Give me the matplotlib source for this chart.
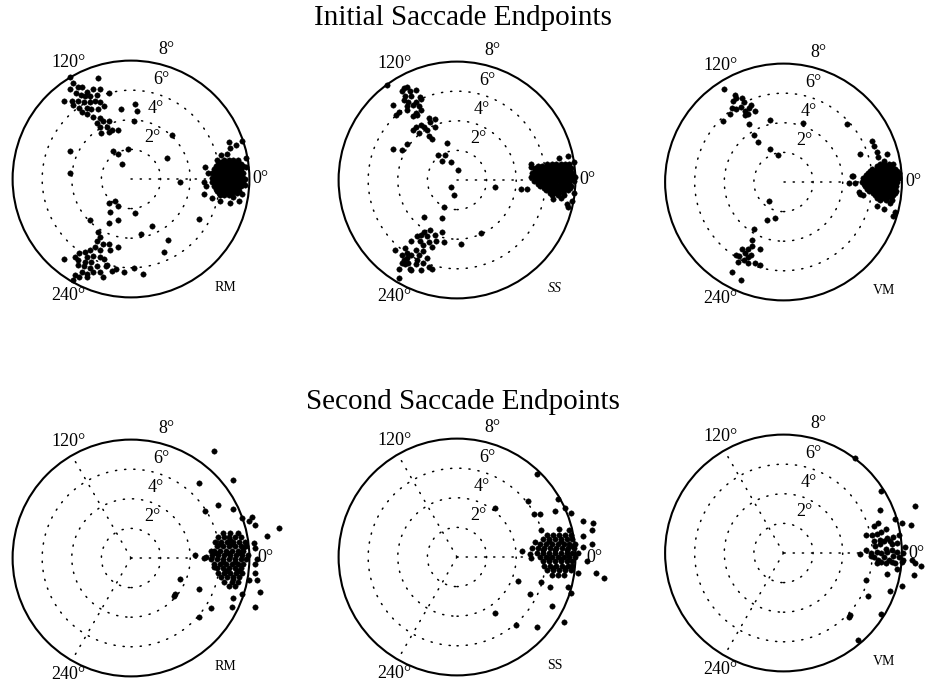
import matplotlib
matplotlib.use('Agg')
import matplotlib.pyplot as plt
from matplotlib.patches import Circle
import numpy as np

plt.rcParams['font.family'] = ['Liberation Serif', 'DejaVu Serif']

W, H = 926, 685

row_titles = ["Initial Saccade Endpoints", "Second Saccade Endpoints"]
monkeys = ["RM", "SS", "VM"]
ring_radii = [2, 4, 6]
rmax = 8
ring_labels = ["2°", "4°", "6°", "8°"]
angle_labels = ["0°", "120°", "240°"]

# ---------------- Initial saccades (x, y in degrees) ----------------
trm_120 = [(-4.1,6.9),(-2.2,6.8),(-3.9,6.5),(-3.6,6.2),(-4.1,6.1),(-3.3,6.2),(-3.0,5.9),(-2.6,6.1),
           (-2.1,6.1),(-1.5,5.8),(-3.7,5.8),(-3.4,5.7),(-3.1,5.6),(-2.8,5.6),(-2.3,5.7),(-4.0,5.3),
           (-3.6,5.3),(-3.2,5.2),(-2.8,5.2),(-2.4,5.3),(-2.1,5.2),(-1.8,4.9),(-3.9,5.0),(-3.5,4.8),
           (-3.0,4.8),(-2.7,4.7),(-2.2,4.7),(-3.3,4.5),(-3.0,4.4),(-2.6,4.2),(-2.1,4.1),(-2.3,3.8),
           (-1.9,3.9),(-1.5,3.9),(-2.1,3.5),(-1.6,3.5),(-1.3,3.3),(-2.0,3.1),(-1.5,3.2),(-0.9,3.3),
           (-4.5,5.3)]
trm_scatter = [(-0.7,4.7),(0.3,5.1),(0.4,4.6),(0.2,3.9),(2.8,3.0),(2.4,1.4),(-4.1,1.9),(-4.1,0.4),
               (-1.2,1.9),(-0.9,1.7),(-0.2,2.0),(-0.6,1.0),(3.3,-0.2),(7.5,2.6),(7.8,1.4),(6.6,2.5),
               (-1.5,-1.6),(-1.1,-1.5),(-0.9,-1.8),(0.3,-2.3),(-1.4,-2.2),(-2.8,-2.8),(-1.5,-3.0),
               (-0.9,-2.8),(1.4,-3.2),(4.6,-2.7),(0.7,-3.7),(2.5,-4.1),(2.2,-4.9),(0.2,-6.0),
               (0.8,-6.4),(-1.0,-6.1),(-0.5,-6.3),(-1.7,-5.9)]
trm_240 = [(-2.2,-3.6),(-2.1,-3.9),(-2.3,-4.2),(-1.9,-4.4),(-1.5,-4.4),(-0.9,-4.6),(-2.4,-4.6),
           (-2.8,-4.8),(-2.1,-4.8),(-3.1,-4.9),(-3.5,-5.0),(-3.8,-5.3),(-3.0,-5.3),(-2.6,-5.2),
           (-2.1,-5.3),(-1.8,-5.4),(-4.5,-5.4),(-3.6,-5.5),(-3.1,-5.6),(-2.7,-5.6),(-3.6,-5.8),
           (-3.2,-5.9),(-2.8,-6.0),(-2.3,-5.9),(-3.3,-6.3),(-3.0,-6.4),(-2.6,-6.3),(-2.1,-6.3),
           (-3.5,-6.6),(-3.0,-6.6),(-3.9,-6.8),(-3.8,-6.5),(-1.4,-4.8),(-1.6,-5.8),(-1.3,-6.2),
           (-1.9,-6.6)]
trm_0 = [(5.0,0.8),(5.2,0.4),(4.9,-0.2),(5.1,-0.5),(4.9,-1.0),(5.5,-1.3),(6.0,-1.5),(6.7,-1.6),
         (7.3,-1.5),(6.9,-1.2),(7.7,0.0),(7.8,0.8),(7.7,-0.4),(7.5,-1.0),(6.7,2.1),(7.1,2.3),
         (6.5,1.7),(6.1,1.6),(5.8,1.3),
         (6.3,1.3),(6.6,1.3),(6.9,1.3),(7.2,1.3),
         (5.9,1.0),(6.2,1.0),(6.5,1.0),(6.8,1.0),(7.1,1.0),(7.4,1.0),
         (5.6,0.7),(5.9,0.7),(6.2,0.7),(6.5,0.7),(6.8,0.7),(7.1,0.7),(7.4,0.7),
         (5.5,0.4),(5.8,0.4),(6.1,0.4),(6.4,0.4),(6.7,0.4),(7.0,0.4),(7.3,0.4),(7.6,0.4),
         (5.5,0.1),(5.8,0.1),(6.1,0.1),(6.4,0.1),(6.7,0.1),(7.0,0.1),(7.3,0.1),(7.6,0.1),
         (5.5,-0.2),(5.8,-0.2),(6.1,-0.2),(6.4,-0.2),(6.7,-0.2),(7.0,-0.2),(7.3,-0.2),(7.6,-0.2),
         (5.6,-0.5),(5.9,-0.5),(6.2,-0.5),(6.5,-0.5),(6.8,-0.5),(7.1,-0.5),(7.4,-0.5),
         (5.8,-0.8),(6.1,-0.8),(6.4,-0.8),(6.7,-0.8),(7.0,-0.8),(7.3,-0.8),
         (6.0,-1.1),(6.3,-1.1),(6.6,-1.1)]
trm_0_dense = [(6.05,1.15),(6.35,1.15),(6.65,1.15),(6.95,1.15),(7.25,1.15),
               (5.75,0.85),(6.05,0.85),(6.35,0.85),(6.65,0.85),(6.95,0.85),(7.25,0.85),(7.55,0.85),
               (5.65,0.55),(5.95,0.55),(6.25,0.55),(6.55,0.55),(6.85,0.55),(7.15,0.55),(7.45,0.55),
               (5.65,0.25),(5.95,0.25),(6.25,0.25),(6.55,0.25),(6.85,0.25),(7.15,0.25),(7.45,0.25),
               (5.65,-0.05),(5.95,-0.05),(6.25,-0.05),(6.55,-0.05),(6.85,-0.05),(7.15,-0.05),(7.45,-0.05),
               (5.65,-0.35),(5.95,-0.35),(6.25,-0.35),(6.55,-0.35),(6.85,-0.35),(7.15,-0.35),(7.45,-0.35),
               (5.75,-0.65),(6.05,-0.65),(6.35,-0.65),(6.65,-0.65),(6.95,-0.65),(7.25,-0.65),
               (5.95,-0.95),(6.25,-0.95),(6.55,-0.95),(6.85,-0.95),(7.15,-0.95)]

tss_120 = [(-4.7,6.4),(-3.6,6.2),(-3.4,6.3),(-3.7,6.0),(-3.2,6.0),(-2.8,6.1),(-3.5,5.7),(-3.1,5.7),
           (-2.5,5.6),(-3.6,5.4),(-3.3,5.3),(-2.8,5.3),(-2.4,5.5),(-3.4,5.0),(-3.0,5.1),(-2.6,5.0),
           (-4.3,5.1),(-3.9,4.6),(-3.4,4.7),(-2.8,4.5),(-2.4,4.7),(-4.1,4.4),(-3.0,4.3),(-2.7,4.4),
           (-1.9,4.2),(-1.5,4.1),(-1.8,3.9),(-2.4,3.7),(-2.2,3.6),(-2.8,3.6),(-2.0,3.4),(-2.6,3.2),
           (-1.9,3.0),(-1.7,2.8),(-1.5,3.6),(-3.0,3.4)]
tss_scatter = [(-4.3,2.1),(-3.7,2.0),(-3.4,2.4),(-1.3,1.7),(-1.0,1.3),(-0.8,1.7),(-0.7,2.5),
               (-0.4,1.2),(0.1,0.7),(-0.4,-0.5),(-0.2,-1.0),(-0.9,-1.8),(-1.0,-2.6),(-2.2,-2.5),
               (0.3,-4.3),(2.6,-0.5),(1.6,-3.6)]
tss_240 = [(-2.2,-3.5),(-1.8,-3.4),(-2.4,-3.7),(-2.7,-3.8),(-2.0,-3.8),(-1.5,-3.7),(-3.1,-4.1),
           (-2.5,-4.1),(-1.9,-4.2),(-1.4,-4.1),(-2.3,-4.4),(-1.7,-4.5),(-1.0,-3.5),(-3.5,-4.6),
           (-4.2,-4.7),(-2.8,-4.7),(-2.3,-4.8),(-3.7,-5.1),(-3.4,-5.3),(-3.1,-5.1),(-2.7,-5.4),
           (-3.3,-5.6),(-2.8,-5.7),(-3.7,-5.6),(-2.3,-5.6),(-1.9,-5.9),(-1.7,-6.0),(-2.4,-6.1),
           (-3.1,-6.1),(-3.9,-6.0),(-2.0,-5.3),(-0.9,-4.2),(-2.6,-5.1),(-3.5,-5.7),(-3.2,-6.0),
           (-3.4,-4.9),(-3.6,-5.4),(-3.9,-6.6)]
tss_0 = [(5.0,1.1),(4.7,-0.6),(7.5,1.6),(7.9,1.2),(7.9,-0.9),(7.4,-1.6),(7.5,-1.8),(7.0,-1.2),
         (6.5,-1.3),(7.8,-1.4),(6.9,1.5),(4.3,-0.6),(5.0,0.9),
         (6.1,1.1),(6.4,1.1),(6.7,1.1),(7.0,1.1),(7.3,1.1),(7.6,1.1),
         (5.3,0.8),(5.6,0.8),(5.9,0.8),(6.2,0.8),(6.5,0.8),(6.8,0.8),(7.1,0.8),(7.4,0.8),(7.7,0.8),
         (5.1,0.5),(5.4,0.5),(5.7,0.5),(6.0,0.5),(6.3,0.5),(6.6,0.5),(6.9,0.5),(7.2,0.5),(7.5,0.5),(7.8,0.5),
         (5.0,0.2),(5.3,0.2),(5.6,0.2),(5.9,0.2),(6.2,0.2),(6.5,0.2),(6.8,0.2),(7.1,0.2),(7.4,0.2),(7.7,0.2),(8.0,0.2),
         (5.2,-0.1),(5.5,-0.1),(5.8,-0.1),(6.1,-0.1),(6.4,-0.1),(6.7,-0.1),(7.0,-0.1),(7.3,-0.1),(7.6,-0.1),(7.9,-0.1),
         (5.6,-0.4),(5.9,-0.4),(6.2,-0.4),(6.5,-0.4),(6.8,-0.4),(7.1,-0.4),(7.4,-0.4),(7.7,-0.4),
         (6.0,-0.7),(6.3,-0.7),(6.6,-0.7),(6.9,-0.7),(7.2,-0.7),(7.5,-0.7),
         (6.4,-1.0),(6.8,-1.0),(7.2,-1.0)]
tss_0_dense = [(5.45,0.95),(5.75,0.95),(6.05,0.95),(6.35,0.95),(6.65,0.95),(6.95,0.95),(7.25,0.95),(7.55,0.95),
               (5.25,0.65),(5.55,0.65),(5.85,0.65),(6.15,0.65),(6.45,0.65),(6.75,0.65),(7.05,0.65),(7.35,0.65),(7.65,0.65),
               (5.15,0.35),(5.45,0.35),(5.75,0.35),(6.05,0.35),(6.35,0.35),(6.65,0.35),(6.95,0.35),(7.25,0.35),(7.55,0.35),(7.85,0.35),
               (5.35,0.05),(5.65,0.05),(5.95,0.05),(6.25,0.05),(6.55,0.05),(6.85,0.05),(7.15,0.05),(7.45,0.05),(7.75,0.05),
               (5.45,-0.25),(5.75,-0.25),(6.05,-0.25),(6.35,-0.25),(6.65,-0.25),(6.95,-0.25),(7.25,-0.25),(7.55,-0.25),
               (5.85,-0.55),(6.15,-0.55),(6.45,-0.55),(6.75,-0.55),(7.05,-0.55),(7.35,-0.55),(7.65,-0.55),
               (6.25,-0.85),(6.55,-0.85),(6.85,-0.85),(7.15,-0.85)]

tvm_120 = [(-4.0,6.3),(-3.3,5.9),(-3.4,5.5),(-3.2,5.7),(-2.8,5.7),(-2.7,5.4),(-3.5,5.0),(-3.6,4.6),
           (-3.2,4.9),(-2.9,5.1),(-2.6,4.8),(-2.3,5.0),(-2.2,5.2),(-1.9,4.8),(-2.6,4.5),(-2.4,4.6),
           (-4.1,4.1),(-2.3,3.9),(-2.0,3.2),(-1.7,2.7)]
tvm_scatter = [(-0.9,4.2),(1.3,4.0),(4.3,3.9),(-0.9,2.2),(-0.4,1.8),(-1.0,-1.3),(-0.6,-2.4),
               (-1.1,-2.6),(-2.0,-3.2)]
tvm_240 = [(-2.1,-3.9),(-2.1,-4.3),(-2.4,-4.5),(-2.8,-4.5),(-1.6,-4.5),(-3.2,-4.9),(-3.0,-5.0),
           (-2.7,-5.3),(-2.4,-5.1),(-2.2,-4.9),(-2.4,-5.5),(-1.9,-5.5),(-1.6,-5.6),(-3.1,-5.4),
           (-3.5,-6.1),(-2.9,-6.6),(-2.6,-4.8)]
tvm_0 = [(6.0,2.8),(6.1,2.4),(5.2,1.9),(6.3,2.0),(6.4,1.7),(7.0,1.9),(6.8,1.4),(4.6,0.4),(4.8,-0.1),
         (4.4,-0.1),(5.1,-0.7),(5.4,-0.9),(6.3,-1.6),(6.8,-1.8),(7.2,-1.4),(7.5,-2.0),(7.4,-2.3),
         (4.7,0.4),(5.2,-0.8),
         (6.5,1.2),(6.8,1.2),(7.1,1.2),(7.4,1.2),
         (6.0,0.9),(6.3,0.9),(6.6,0.9),(6.9,0.9),(7.2,0.9),(7.5,0.9),
         (5.7,0.6),(6.0,0.6),(6.3,0.6),(6.6,0.6),(6.9,0.6),(7.2,0.6),(7.5,0.6),(7.8,0.6),
         (5.4,0.3),(5.7,0.3),(6.0,0.3),(6.3,0.3),(6.6,0.3),(6.9,0.3),(7.2,0.3),(7.5,0.3),(7.8,0.3),
         (5.3,0.0),(5.6,0.0),(5.9,0.0),(6.2,0.0),(6.5,0.0),(6.8,0.0),(7.1,0.0),(7.4,0.0),(7.7,0.0),
         (5.5,-0.3),(5.8,-0.3),(6.1,-0.3),(6.4,-0.3),(6.7,-0.3),(7.0,-0.3),(7.3,-0.3),(7.6,-0.3),
         (5.8,-0.6),(6.1,-0.6),(6.4,-0.6),(6.7,-0.6),(7.0,-0.6),(7.3,-0.6),(7.6,-0.6),
         (6.2,-0.9),(6.5,-0.9),(6.8,-0.9),(7.1,-0.9),(7.4,-0.9),
         (6.5,-1.2),(6.9,-1.2),(7.3,-1.2)]
tvm_0_dense = [(6.35,1.05),(6.65,1.05),(6.95,1.05),(7.25,1.05),
               (5.85,0.75),(6.15,0.75),(6.45,0.75),(6.75,0.75),(7.05,0.75),(7.35,0.75),(7.65,0.75),
               (5.55,0.45),(5.85,0.45),(6.15,0.45),(6.45,0.45),(6.75,0.45),(7.05,0.45),(7.35,0.45),(7.65,0.45),
               (5.45,0.15),(5.75,0.15),(6.05,0.15),(6.35,0.15),(6.65,0.15),(6.95,0.15),(7.25,0.15),(7.55,0.15),
               (5.45,-0.15),(5.75,-0.15),(6.05,-0.15),(6.35,-0.15),(6.65,-0.15),(6.95,-0.15),(7.25,-0.15),(7.55,-0.15),
               (5.65,-0.45),(5.95,-0.45),(6.25,-0.45),(6.55,-0.45),(6.85,-0.45),(7.15,-0.45),(7.45,-0.45),
               (6.05,-0.75),(6.35,-0.75),(6.65,-0.75),(6.95,-0.75),(7.25,-0.75),(7.55,-0.75),
               (6.35,-1.05),(6.65,-1.05),(6.95,-1.05),(7.25,-1.05)]

# ---------------- Second saccades (x, y in degrees) ----------------
brm_scatter = [(5.6,7.2),(4.6,5.1),(6.9,5.3),(5.9,3.6),(6.9,3.3),(5.0,3.2),(7.5,2.7),(8.2,2.8),
               (8.0,2.5),(8.4,2.2),(10.0,2.0),(9.2,1.5),(8.3,1.0),(8.4,0.7),(8.5,-0.1),(8.4,-0.4),
               (8.4,-1.0),(8.5,-1.5),(8.7,-2.3),(8.4,-3.3),(4.3,0.2),(4.9,0.0),(3.3,-1.4),(2.9,-2.6),
               (3.0,-2.4),(4.6,-2.1),(5.4,-3.4),(4.6,-4.0),(6.8,-3.3),(6.9,-2.7),(7.5,-2.4),(8.0,-1.5),
               (5.1,0.1),(5.4,0.5),(5.6,-0.6)]
brm_0 = [(6.2,1.7),(6.7,1.7),(7.2,1.7),
         (5.9,1.4),(6.3,1.4),(6.6,1.4),(7.0,1.4),(7.4,1.4),
         (5.7,1.1),(6.1,1.1),(6.5,1.1),(6.9,1.1),(7.3,1.1),(7.7,1.1),
         (5.8,0.8),(6.2,0.8),(6.6,0.8),(7.0,0.8),(7.4,0.8),(7.8,0.8),
         (5.6,0.5),(6.0,0.5),(6.4,0.5),(6.8,0.5),(7.2,0.5),(7.6,0.5),
         (5.5,0.2),(5.9,0.2),(6.3,0.2),(6.7,0.2),(7.1,0.2),(7.5,0.2),(7.9,0.2),
         (5.4,-0.1),(5.8,-0.1),(6.2,-0.1),(6.6,-0.1),(7.0,-0.1),(7.4,-0.1),(7.8,-0.1),
         (5.6,-0.4),(6.0,-0.4),(6.4,-0.4),(6.8,-0.4),(7.2,-0.4),(7.6,-0.4),
         (5.8,-0.7),(6.2,-0.7),(6.6,-0.7),(7.0,-0.7),(7.4,-0.7),
         (5.9,-1.0),(6.3,-1.0),(6.7,-1.0),(7.1,-1.0),(7.5,-1.0),
         (6.1,-1.3),(6.5,-1.3),(6.9,-1.3),(7.3,-1.3),
         (6.3,-1.6),(6.8,-1.6),(7.2,-1.6),
         (6.6,-1.9),(7.0,-1.9),
         (6.0,0.95),(6.8,0.95),(5.75,0.35),(6.55,0.35),(7.35,0.35),(6.2,-0.25),(7.0,-0.25),
         (6.4,-0.85),(7.2,-0.85),(6.7,1.25),(6.9,-1.45),(7.6,0.65)]

bss_scatter = [(5.4,5.6),(6.8,3.9),(4.8,3.8),(2.6,3.3),(5.2,2.9),(5.6,2.9),(6.6,3.1),(7.3,3.3),
               (7.7,3.0),(8.5,2.4),(9.2,2.3),(9.1,1.8),(8.5,1.4),(9.1,0.9),(8.5,0.7),(4.4,0.4),
               (4.9,0.2),(5.0,-0.1),(8.8,-0.3),(9.4,-1.1),(9.9,-1.4),(8.2,-1.1),(4.1,-1.6),(5.7,-1.7),
               (6.3,-2.0),(7.5,-2.0),(7.7,-2.4),(4.9,-2.5),(6.4,-3.3),(2.6,-3.8),(4.0,-4.6),(5.4,-4.7),
               (7.2,-4.4),(7.8,-0.6),(5.1,0.6),(5.3,1.0),(5.7,1.8),(6.9,1.9),(7.6,1.8)]
bss_0 = [(6.1,1.5),(6.5,1.5),(6.9,1.5),(7.3,1.5),(7.7,1.5),
         (5.8,1.2),(6.2,1.2),(6.6,1.2),(7.0,1.2),(7.4,1.2),(7.8,1.2),
         (5.6,0.9),(6.0,0.9),(6.4,0.9),(6.8,0.9),(7.2,0.9),(7.6,0.9),(8.0,0.9),
         (5.5,0.6),(5.9,0.6),(6.3,0.6),(6.7,0.6),(7.1,0.6),(7.5,0.6),(7.9,0.6),
         (5.4,0.3),(5.8,0.3),(6.2,0.3),(6.6,0.3),(7.0,0.3),(7.4,0.3),(7.8,0.3),(8.2,0.3),
         (5.6,0.0),(6.0,0.0),(6.4,0.0),(6.8,0.0),(7.2,0.0),(7.6,0.0),(8.0,0.0),
         (5.8,-0.3),(6.2,-0.3),(6.6,-0.3),(7.0,-0.3),(7.4,-0.3),(7.8,-0.3),
         (5.9,-0.6),(6.3,-0.6),(6.7,-0.6),(7.1,-0.6),(7.5,-0.6),
         (6.1,-0.9),(6.5,-0.9),(6.9,-0.9),(7.3,-0.9),(7.7,-0.9),
         (6.4,-1.2),(6.8,-1.2),(7.2,-1.2),
         (6.2,1.05),(7.0,1.05),(5.8,0.45),(6.6,0.45),(7.4,0.45),(6.2,-0.15),(7.0,-0.15),
         (6.5,-0.75),(7.3,-0.75),(7.8,0.75)]

bvm_scatter = [(4.8,6.4),(6.6,4.2),(8.9,3.2),(6.5,2.9),(7.5,2.3),(8.0,2.0),(8.6,1.9),(7.8,1.2),
               (8.2,0.4),(8.1,0.0),(8.1,-0.5),(8.7,-0.5),(8.9,-0.7),(9.3,-0.9),(8.8,-1.5),(7.7,-1.1),
               (7.0,-1.4),(5.2,-0.1),(5.6,-1.8),(5.7,-2.9),(7.2,-2.6),(8.0,-2.2),(6.6,-4.1),(4.5,-4.2),
               (4.4,-4.3),(5.0,-5.9)]
bvm_0 = [(6.4,2.0),(6.1,1.8),(5.6,1.2),(6.0,1.2),(6.3,1.3),(6.6,1.4),(6.9,1.6),(6.1,0.8),(6.5,0.9),
         (7.0,1.0),(7.4,1.1),(6.2,0.5),(6.5,0.6),(6.9,0.3),(7.3,0.6),(7.7,0.7),(5.9,0.0),(6.3,0.1),
         (6.6,0.0),(7.0,0.1),(7.3,0.2),(7.7,0.1),(6.1,-0.3),(6.4,-0.5),(6.8,-0.3),(7.1,-0.5),
         (7.4,-0.2),(7.8,-0.3),(6.3,-0.7),(6.6,-0.6),(6.9,-0.7),(7.3,-0.6),(5.9,-0.2),(7.5,-0.7),
         (8.0,-0.6),(5.6,0.2),(6.8,0.8),(7.2,0.8)]

panels = [
    # (row, col, centre_px, point groups, spoke angles, italic label, 0-label radius)
    (0, 0, (131, 179), [trm_120, trm_scatter, trm_240, trm_0, trm_0_dense], [0], False, 8.75),
    (0, 1, (457, 180), [tss_120, tss_scatter, tss_240, tss_0, tss_0_dense], [0], True, 8.8),
    (0, 2, (783.5, 182), [tvm_120, tvm_scatter, tvm_240, tvm_0, tvm_0_dense], [0], False, 8.8),
    (1, 0, (131, 558), [brm_scatter, brm_0], [0, 120, 240], False, 9.1),
    (1, 1, (457, 557), [bss_scatter, bss_0], [0, 120, 240], False, 9.3),
    (1, 2, (783.5, 553), [bvm_scatter, bvm_0], [0, 120, 240], False, 8.95),
]

fig = plt.figure(figsize=(W / 100, H / 100), dpi=100)
half = 148  # half-size of each axes in pixels (10 deg -> 148 px)

ring_label_pos = [(1.42, 2.83), (1.70, 4.75), (2.05, 6.70), (2.37, 8.75)]
angle_label_pos = [(-4.25, 7.85), (-4.25, -7.9)]
name_label_pos = {"RM": (6.4, -7.3), "SS": (6.6, -7.3), "VM": (6.8, -7.3)}

dot = (0, (0.8, 5.2))
for row, col, (cx, cy), groups, spokes, italic, r0 in panels:
    ax = fig.add_axes([(cx - half) / W, (H - cy - half) / H, 2 * half / W, 2 * half / H])
    ax.set_xlim(-10, 10)
    ax.set_ylim(-10, 10)
    ax.set_aspect('equal')
    ax.axis('off')
    for r in ring_radii:
        ax.add_patch(Circle((0, 0), r, fill=False, ls=dot, lw=1.1, color='black',
                            capstyle='round'))
    ax.add_patch(Circle((0, 0), rmax, fill=False, lw=1.5, color='black'))
    for a in spokes:
        t = np.radians(a)
        ax.plot([0, rmax * np.cos(t)], [0, rmax * np.sin(t)], ls=dot, lw=1.1,
                color='black', dash_capstyle='round')
    for lab, (x, y) in zip(ring_labels, ring_label_pos):
        ax.text(x, y, lab, ha='center', va='center', fontsize=13)
    ax.text(r0, 0.0, angle_labels[0], ha='center', va='center', fontsize=13)
    for lab, (x, y) in zip(angle_labels[1:], angle_label_pos):
        ax.text(x, y, lab, ha='center', va='center', fontsize=13)
    name = monkeys[col]
    nx, ny = name_label_pos[name]
    ax.text(nx, ny, name, ha='center', va='center', fontsize=10,
            style='italic' if italic else 'normal')
    for g in groups:
        xs = [p[0] for p in g]
        ys = [p[1] for p in g]
        ax.plot(xs, ys, 'o', ms=3.9, color='black', mec='black', mew=0.3, clip_on=False)

fig.text(463 / W, 1 - 18 / H, row_titles[0], ha='center', va='center', fontsize=21)
fig.text(463 / W, 1 - 402 / H, row_titles[1], ha='center', va='center', fontsize=21)

fig.savefig('out.png', dpi=100, facecolor='white')
